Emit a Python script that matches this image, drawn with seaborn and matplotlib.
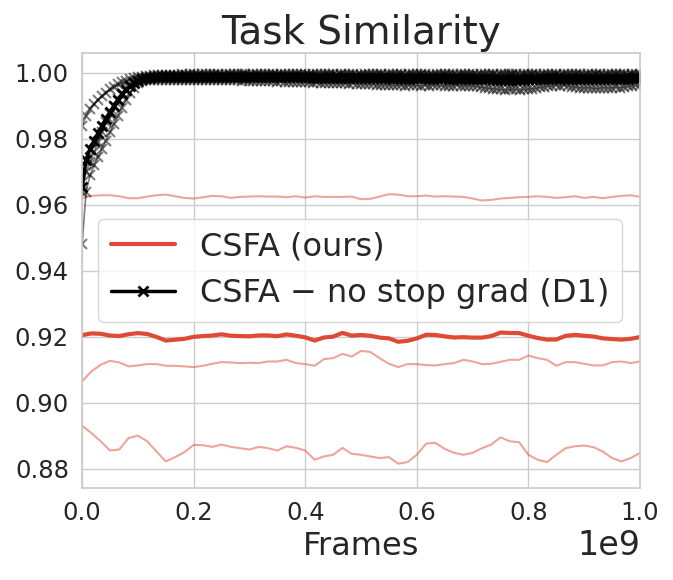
import numpy as np
import pandas as pd
import seaborn as sns
import matplotlib.pyplot as plt

# CSFA (ours): three seeds, 61 logged points each
red_frames = np.linspace(0, 1e9, 61)
red_seed_hi = [
    0.9620, 0.9627, 0.9629, 0.9629, 0.9626, 0.9620, 0.9620, 0.9625, 0.9629, 0.9631,
    0.9626, 0.9621, 0.9619, 0.9623, 0.9627, 0.9626, 0.9621, 0.9624, 0.9625, 0.9626,
    0.9625, 0.9625, 0.9623, 0.9626, 0.9622, 0.9626, 0.9624, 0.9624, 0.9624, 0.9625,
    0.9617, 0.9618, 0.9625, 0.9632, 0.9631, 0.9626, 0.9626, 0.9628, 0.9625, 0.9626,
    0.9625, 0.9624, 0.9619, 0.9613, 0.9615, 0.9619, 0.9621, 0.9623, 0.9624, 0.9626,
    0.9624, 0.9621, 0.9623, 0.9626, 0.9621, 0.9624, 0.9620, 0.9624, 0.9627, 0.9629,
    0.9624,
]
red_seed_mid = [
    0.9065, 0.9095, 0.9115, 0.9127, 0.9122, 0.9110, 0.9113, 0.9117, 0.9117, 0.9112,
    0.9112, 0.9110, 0.9108, 0.9112, 0.9118, 0.9123, 0.9122, 0.9120, 0.9121, 0.9120,
    0.9125, 0.9125, 0.9130, 0.9120, 0.9117, 0.9112, 0.9132, 0.9135, 0.9148, 0.9140,
    0.9157, 0.9154, 0.9135, 0.9118, 0.9108, 0.9117, 0.9117, 0.9114, 0.9113, 0.9117,
    0.9120, 0.9130, 0.9125, 0.9117, 0.9118, 0.9124, 0.9130, 0.9130, 0.9143, 0.9135,
    0.9130, 0.9112, 0.9123, 0.9123, 0.9118, 0.9113, 0.9113, 0.9123, 0.9125, 0.9120,
    0.9125,
]
red_seed_lo = [
    0.8930, 0.8908, 0.8883, 0.8855, 0.8858, 0.8893, 0.8900, 0.8883, 0.8852, 0.8822,
    0.8835, 0.8850, 0.8872, 0.8871, 0.8866, 0.8873, 0.8866, 0.8862, 0.8858, 0.8866,
    0.8862, 0.8855, 0.8868, 0.8863, 0.8855, 0.8827, 0.8837, 0.8842, 0.8863, 0.8845,
    0.8842, 0.8837, 0.8832, 0.8835, 0.8815, 0.8820, 0.8842, 0.8876, 0.8878, 0.8860,
    0.8848, 0.8842, 0.8848, 0.8862, 0.8873, 0.8895, 0.8883, 0.8880, 0.8842, 0.8827,
    0.8820, 0.8842, 0.8862, 0.8868, 0.8870, 0.8865, 0.8852, 0.8832, 0.8822, 0.8832,
    0.8848,
]

# CSFA - no stop grad (D1): three seeds, 141 logged points each
black_frames = np.linspace(0, 1e9, 141)
black_seed_a = [
    0.9840, 0.9870, 0.9890, 0.9905, 0.9918, 0.9930, 0.9940, 0.9950, 0.9958, 0.9965,
    0.9971, 0.9976, 0.9980, 0.9984, 0.9987, 0.9989, 0.9991, 0.9992,
    0.9993, 0.9994, 0.9994, 0.9995, 0.9995, 0.9994, 0.9995, 0.9996, 0.9995, 0.9996,
    0.9996, 0.9995, 0.9996, 0.9996, 0.9997, 0.9996, 0.9996, 0.9995, 0.9996, 0.9997,
    0.9996, 0.9996, 0.9997, 0.9996, 0.9995, 0.9996, 0.9996, 0.9997, 0.9997, 0.9996,
    0.9996, 0.9995, 0.9996, 0.9997, 0.9996, 0.9996, 0.9997, 0.9996, 0.9996, 0.9995,
    0.9996, 0.9996, 0.9997, 0.9997, 0.9996, 0.9996, 0.9995, 0.9996, 0.9996, 0.9997,
    0.9996, 0.9995, 0.9995, 0.9996, 0.9996, 0.9997, 0.9996, 0.9996, 0.9995, 0.9996,
    0.9996, 0.9997, 0.9996, 0.9995, 0.9996, 0.9996, 0.9996, 0.9997, 0.9996, 0.9995,
    0.9995, 0.9996, 0.9996, 0.9997, 0.9996, 0.9996, 0.9995, 0.9996, 0.9997, 0.9996,
    0.9996, 0.9995, 0.9996, 0.9996, 0.9997, 0.9996, 0.9995, 0.9996, 0.9996, 0.9997,
    0.9996, 0.9996, 0.9995, 0.9996, 0.9997, 0.9996, 0.9996, 0.9995, 0.9996, 0.9996,
    0.9997, 0.9996, 0.9995, 0.9996, 0.9996, 0.9997, 0.9996, 0.9996, 0.9995, 0.9996,
    0.9996, 0.9997, 0.9996, 0.9995, 0.9996, 0.9996, 0.9997, 0.9996, 0.9996, 0.9995,
    0.9996, 0.9996, 0.9997,
]
black_seed_b = [
    0.9480, 0.9640, 0.9690, 0.9720, 0.9745, 0.9770, 0.9795, 0.9820, 0.9845, 0.9870,
    0.9895, 0.9918, 0.9938, 0.9955, 0.9968, 0.9977, 0.9983, 0.9987,
    0.9989, 0.9990, 0.9991, 0.9991, 0.9992, 0.9992, 0.9991, 0.9992, 0.9993, 0.9992,
    0.9992, 0.9993, 0.9992, 0.9991, 0.9992, 0.9993, 0.9993, 0.9992, 0.9992, 0.9993,
    0.9992, 0.9991, 0.9992, 0.9993, 0.9992, 0.9992, 0.9993, 0.9992, 0.9991, 0.9992,
    0.9993, 0.9993, 0.9992, 0.9992, 0.9991, 0.9992, 0.9993, 0.9992, 0.9992, 0.9993,
    0.9992, 0.9991, 0.9991, 0.9992, 0.9993, 0.9992, 0.9992, 0.9993, 0.9992, 0.9991,
    0.9992, 0.9992, 0.9993, 0.9992, 0.9991, 0.9991, 0.9992, 0.9993, 0.9992, 0.9992,
    0.9991, 0.9992, 0.9993, 0.9992, 0.9991, 0.9992, 0.9992, 0.9993, 0.9992, 0.9991,
    0.9991, 0.9992, 0.9992, 0.9993, 0.9992, 0.9991, 0.9992, 0.9992, 0.9993, 0.9992,
    0.9991, 0.9990, 0.9991, 0.9992, 0.9992, 0.9993, 0.9992, 0.9991, 0.9992, 0.9992,
    0.9993, 0.9992, 0.9991, 0.9991, 0.9992, 0.9993, 0.9992, 0.9992, 0.9991, 0.9992,
    0.9992, 0.9993, 0.9992, 0.9991, 0.9991, 0.9992, 0.9993, 0.9992, 0.9992, 0.9991,
    0.9992, 0.9993, 0.9992, 0.9992, 0.9991, 0.9992, 0.9993, 0.9992, 0.9991, 0.9992,
    0.9993, 0.9992, 0.9992,
]
black_seed_c = [
    0.9640, 0.9700, 0.9730, 0.9760, 0.9790, 0.9820, 0.9850, 0.9875, 0.9900, 0.9920,
    0.9938, 0.9952, 0.9963, 0.9970, 0.9974, 0.9976, 0.9977, 0.9978,
    0.9978, 0.9977, 0.9978, 0.9979, 0.9978, 0.9977, 0.9978, 0.9978, 0.9979, 0.9978,
    0.9977, 0.9978, 0.9979, 0.9978, 0.9978, 0.9977, 0.9978, 0.9979, 0.9978, 0.9977,
    0.9978, 0.9977, 0.9976, 0.9977, 0.9976, 0.9975, 0.9976, 0.9975, 0.9974, 0.9975,
    0.9974, 0.9973, 0.9974, 0.9973, 0.9972, 0.9973, 0.9972, 0.9971, 0.9972, 0.9971,
    0.9970, 0.9971, 0.9970, 0.9969, 0.9970, 0.9969, 0.9968, 0.9969, 0.9968, 0.9967,
    0.9968, 0.9967, 0.9966, 0.9965, 0.9966, 0.9965, 0.9964, 0.9963, 0.9964, 0.9963,
    0.9962, 0.9963, 0.9962, 0.9961, 0.9962, 0.9963, 0.9962, 0.9961, 0.9962, 0.9961,
    0.9962, 0.9963, 0.9962, 0.9961, 0.9960, 0.9961, 0.9962, 0.9961, 0.9960, 0.9961,
    0.9960, 0.9959, 0.9957, 0.9955, 0.9953, 0.9952, 0.9951, 0.9950, 0.9949, 0.9950,
    0.9951, 0.9950, 0.9949, 0.9950, 0.9951, 0.9952, 0.9954, 0.9956, 0.9958, 0.9960,
    0.9961, 0.9962, 0.9961, 0.9962, 0.9960, 0.9958, 0.9956, 0.9955, 0.9954, 0.9955,
    0.9954, 0.9953, 0.9954, 0.9955, 0.9954, 0.9955, 0.9956, 0.9955, 0.9957, 0.9959,
    0.9961, 0.9962, 0.9963,
]

labels = ["CSFA (ours)", "CSFA \u2212 no stop grad (D1)"]
red = "#df4a36"


def long_form(frames, seeds):
    parts = []
    for k, vals in enumerate(seeds):
        parts.append(pd.DataFrame({"frame": frames, "seed": k, "sim": vals}))
    return pd.concat(parts, ignore_index=True)


red_df = long_form(red_frames, [red_seed_hi, red_seed_mid, red_seed_lo])
black_df = long_form(black_frames, [black_seed_a, black_seed_b, black_seed_c])

sns.set_theme(style="whitegrid")
fig, ax = plt.subplots(figsize=(6.73, 5.8), dpi=100)
fig.subplots_adjust(left=0.122, right=0.951, top=0.909, bottom=0.159)

# individual seeds
sns.lineplot(data=red_df, x="frame", y="sim", units="seed", estimator=None,
             color=red, alpha=0.5, lw=1.5, ax=ax, legend=False)
sns.lineplot(data=black_df, x="frame", y="sim", units="seed", estimator=None,
             color="black", alpha=0.5, lw=1.2, marker="x", ms=7, mew=1.5,
             mec="black", ax=ax, legend=False)

# mean over seeds
sns.lineplot(data=red_df, x="frame", y="sim", errorbar=None, color=red,
             lw=3, ax=ax, label=labels[0])
sns.lineplot(data=black_df, x="frame", y="sim", errorbar=None, color="black",
             lw=2.5, marker="x", ms=7, mew=2, mec="black", ax=ax,
             label=labels[1])

ax.set_xlim(0, 1e9)
ax.set_ylim(0.8742, 1.0061)
ax.set_yticks([0.88, 0.90, 0.92, 0.94, 0.96, 0.98, 1.00])
ax.yaxis.set_major_formatter(plt.FormatStrFormatter("%.2f"))
ax.tick_params(labelsize=17.5)
ax.xaxis.get_offset_text().set_fontsize(24)
ax.set_xlabel("Frames", fontsize=23)
ax.set_ylabel("")
ax.set_title("Task Similarity", fontsize=28)
ax.legend(loc="center left", fontsize=23)

fig.savefig("out.png", dpi=100)
